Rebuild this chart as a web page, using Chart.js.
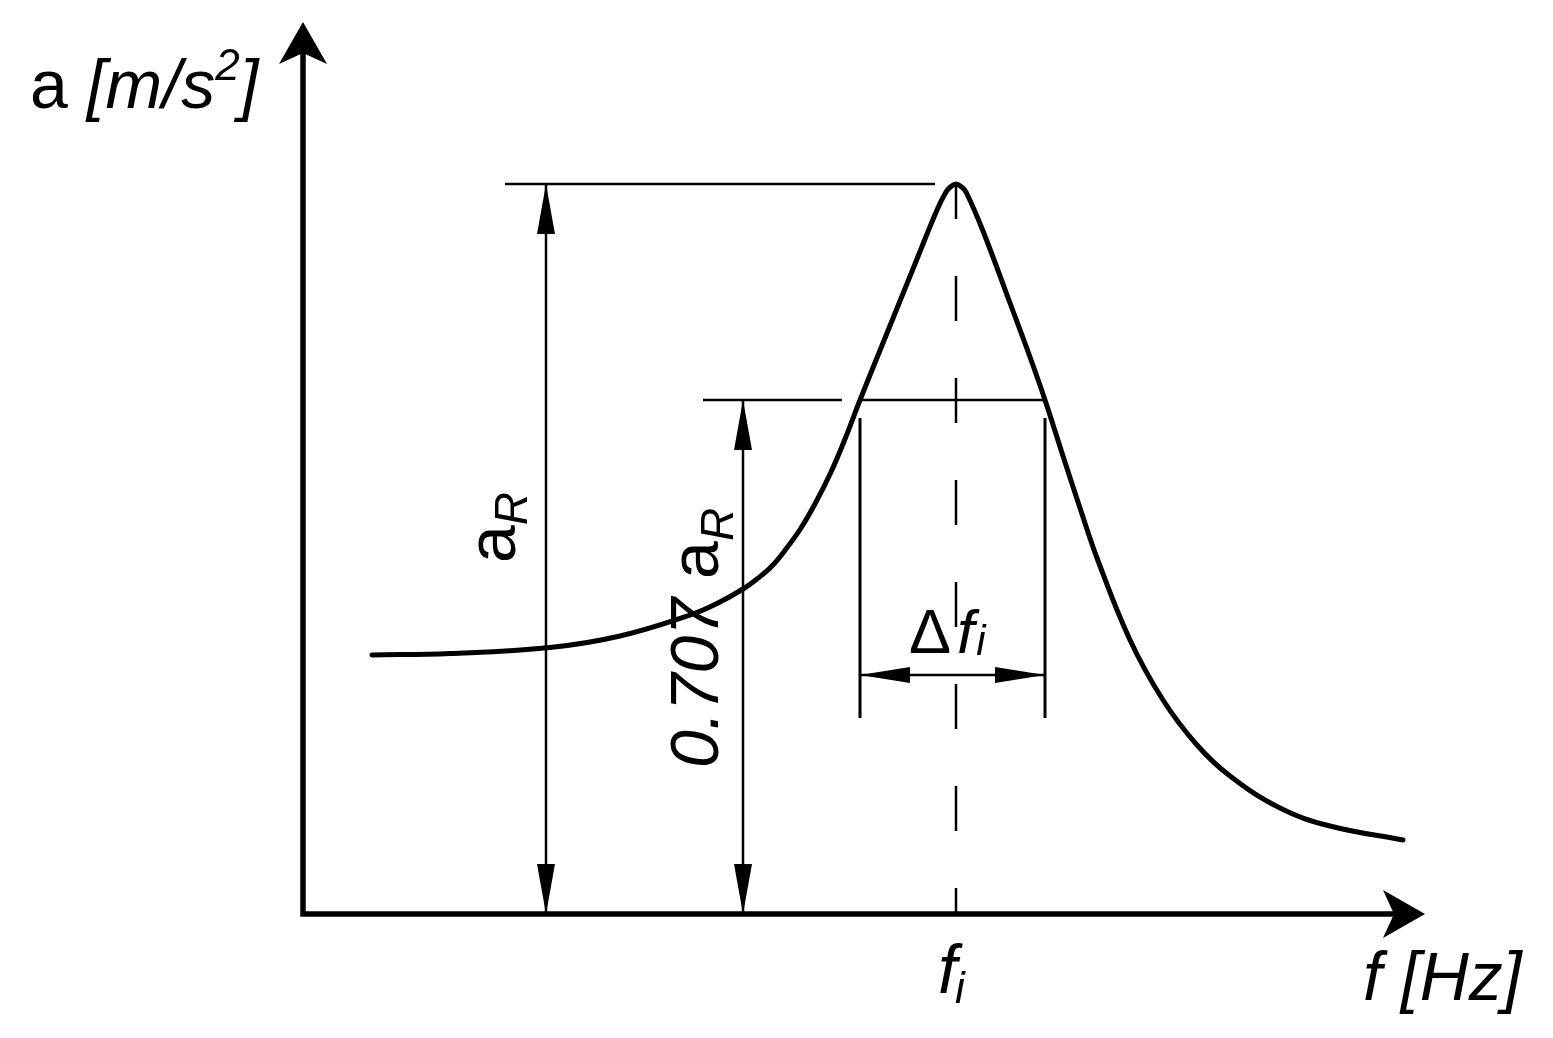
<!DOCTYPE html>
<html>
<head>
<meta charset="utf-8">
<script src="https://cdn.jsdelivr.net/npm/chart.js@4/dist/chart.umd.min.js"></script>
<style>
  html, body { margin: 0; background: #fff; }
  #wrap { width: 1553px; height: 1038px; }
</style>
</head>
<body>
<div id="wrap"><canvas id="resonance"></canvas></div>
<script>
// RESONANCE CURVE  a(f)

const freq  = [6.9, 14.7, 24.7, 31.7, 39.0, 41.5, 44.0, 45.4, 46.9, 48.3, 49.8, 51.3, 52.8, 54.2, 55.7, 58.0, 59.7, 61.4, 63.4, 64.3, 64.8, 65.3, 65.8, 66.3, 68.0, 70.7, 72.7, 74.2, 76.0, 77.7, 79.4, 82.7, 86.0, 89.4, 92.7, 97.7, 102.7, 110.0];
const accel = [25.9, 26.05, 26.65, 27.8, 30.0, 31.1, 32.5, 33.5, 34.8, 36.5, 38.6, 41.2, 44.2, 47.5, 51.4, 57.1, 61.3, 65.5, 70.4, 72.2, 72.75, 73.0, 72.75, 72.2, 68.3, 61.1, 55.7, 51.4, 45.8, 40.6, 35.6, 27.4, 21.4, 16.9, 13.8, 10.6, 8.8, 7.4];

// resonance marks
const fi = 65.3;      // resonance frequency
const aR = 73.0;      // resonance amplitude
const aHalf = 51.4;   // 0.707 aR
const fLow = 55.7;
const fHigh = 74.2;

// dimension lines (data units)
const dimR = 24.3;
const dimHalf = 44.0;
const dfLevel = 23.9;
const extBottom = 19.6, extTop = 49.6;

const ink = '#000';
const FONT = '"Liberation Sans", Arial, sans-serif';

function seg(x1, y1, x2, y2, w, dash) {
  return {
    data: [{x: x1, y: y1}, {x: x2, y: y2}],
    borderColor: ink,
    borderWidth: w,
    borderDash: dash || [],
    borderDashOffset: dash ? 10 : 0,
    pointRadius: 0,
    clip: false
  };
}

function arrowHead(ctx, tx, ty, dx, dy, len, hw) {
  // filled triangle, tip at (tx,ty), pointing along (dx,dy)
  const bx = tx - dx * len, by = ty - dy * len;
  ctx.beginPath();
  ctx.moveTo(tx, ty);
  ctx.lineTo(bx - dy * hw, by + dx * hw);
  ctx.lineTo(bx + dy * hw, by - dx * hw);
  ctx.closePath();
  ctx.fill();
}

function axisHead(ctx, tx, ty, dx, dy) {
  const len = 42, notch = 31, hw = 24;
  const bx = tx - dx * len, by = ty - dy * len;
  ctx.beginPath();
  ctx.moveTo(tx, ty);
  ctx.lineTo(bx - dy * hw, by + dx * hw);
  ctx.lineTo(tx - dx * notch, ty - dy * notch);
  ctx.lineTo(bx + dy * hw, by - dx * hw);
  ctx.closePath();
  ctx.fill();
}

function runs(ctx, parts, x, y) {
  parts.forEach(p => {
    ctx.font = p.font;
    ctx.fillText(p.t, x, y + (p.dy || 0));
    x += ctx.measureText(p.t).width + (p.dx || 0);
  });
  return x;
}

const drawing = {
  id: 'drawing',
  afterDatasetsDraw(chart) {
    const ctx = chart.ctx;
    const sx = chart.scales.x, sy = chart.scales.y;
    const X = v => sx.getPixelForValue(v);
    const Y = v => sy.getPixelForValue(v);
    const x0 = X(0), y0 = Y(0);
    const xTip = X(112.2), yTip = Y(89.2);

    ctx.save();
    ctx.fillStyle = ink;
    ctx.strokeStyle = ink;

    // axes
    ctx.lineWidth = 5.5;
    ctx.lineJoin = 'miter';
    ctx.beginPath();
    ctx.moveTo(x0, yTip + 30);
    ctx.lineTo(x0, y0);
    ctx.lineTo(xTip - 30, y0);
    ctx.stroke();
    axisHead(ctx, x0, yTip, 0, -1);
    axisHead(ctx, xTip, y0, 1, 0);

    // dimension arrows
    arrowHead(ctx, X(dimR), Y(aR), 0, -1, 50, 9);
    arrowHead(ctx, X(dimR), y0, 0, 1, 50, 9);
    arrowHead(ctx, X(dimHalf), Y(aHalf), 0, -1, 50, 9);
    arrowHead(ctx, X(dimHalf), y0, 0, 1, 50, 9);
    arrowHead(ctx, X(fLow), Y(dfLevel), -1, 0, 50, 8);
    arrowHead(ctx, X(fHigh), Y(dfLevel), 1, 0, 50, 8);

    ctx.textBaseline = 'alphabetic';
    ctx.textAlign = 'left';

    // axis titles
    runs(ctx, [
      {t: 'a ', font: '68px ' + FONT},
      {t: '[m/s', font: 'italic 68px ' + FONT},
      {t: '2', font: 'italic 44px ' + FONT, dy: -28},
      {t: ']', font: 'italic 68px ' + FONT}
    ], x0 - 273, 108);

    runs(ctx, [{t: 'f [Hz]', font: 'italic 68px ' + FONT}], xTip - 62, 1000);

    // f_i under axis
    runs(ctx, [
      {t: 'f', font: 'italic 68px ' + FONT, dx: -2},
      {t: 'i', font: 'italic 44px ' + FONT, dy: 10}
    ], X(fi) - 18, 993);

    // delta f_i
    runs(ctx, [
      {t: '\u0394', font: '63px ' + FONT, dx: 6},
      {t: 'f', font: 'italic 62px ' + FONT, dx: 2},
      {t: 'i', font: 'italic 42px ' + FONT, dy: 2}
    ], X(fi) - 47, 653);

    // rotated a_R
    ctx.save();
    ctx.translate(X(dimR) - 31, 563);
    ctx.rotate(-Math.PI / 2);
    runs(ctx, [
      {t: 'a', font: '68px ' + FONT},
      {t: 'R', font: 'italic 46px ' + FONT, dy: 12}
    ], 0, 0);
    ctx.restore();

    // rotated 0.707 a_R
    ctx.save();
    ctx.translate(X(dimHalf) - 25, 768);
    ctx.rotate(-Math.PI / 2);
    runs(ctx, [
      {t: '0.707 ', font: 'italic 68px ' + FONT},
      {t: 'a', font: '68px ' + FONT},
      {t: 'R', font: 'italic 46px ' + FONT, dy: 15}
    ], 0, 0);
    ctx.restore();

    ctx.restore();
  }
};

new Chart('resonance', {
  type: 'line',
  data: {
    datasets: [
      {
        data: freq.map((f, i) => ({x: f, y: accel[i]})),
        borderColor: ink,
        borderWidth: 5,
        tension: 0.4,
        borderCapStyle: 'round',
        pointRadius: 0,
        clip: false
      },
      seg(20.2, aR, 63.2, aR, 2.5),
      seg(dimR, 0, dimR, aR, 2.5),
      seg(40.0, aHalf, 53.9, aHalf, 2.5),
      seg(fLow, aHalf, fHigh, aHalf, 2.5),
      seg(dimHalf, 0, dimHalf, aHalf, 2.5),
      seg(fLow, extBottom, fLow, extTop, 3),
      seg(fHigh, extBottom, fHigh, extTop, 3),
      seg(fLow, dfLevel, fHigh, dfLevel, 2.5),
      seg(fi, aR, fi, 0, 2.5, [45, 57])
    ]
  },
  options: {
    responsive: true,
    maintainAspectRatio: false,
    animation: false,
    layout: { padding: { left: 303, right: 133, top: 22, bottom: 124 } },
    scales: {
      x: { type: 'linear', min: 0, max: 111.7, display: false },
      y: { type: 'linear', min: 0, max: 89.2, display: false }
    },
    plugins: {
      legend: { display: false },
      tooltip: { enabled: false }
    }
  },
  plugins: [drawing]
});
</script>
</body>
</html>
